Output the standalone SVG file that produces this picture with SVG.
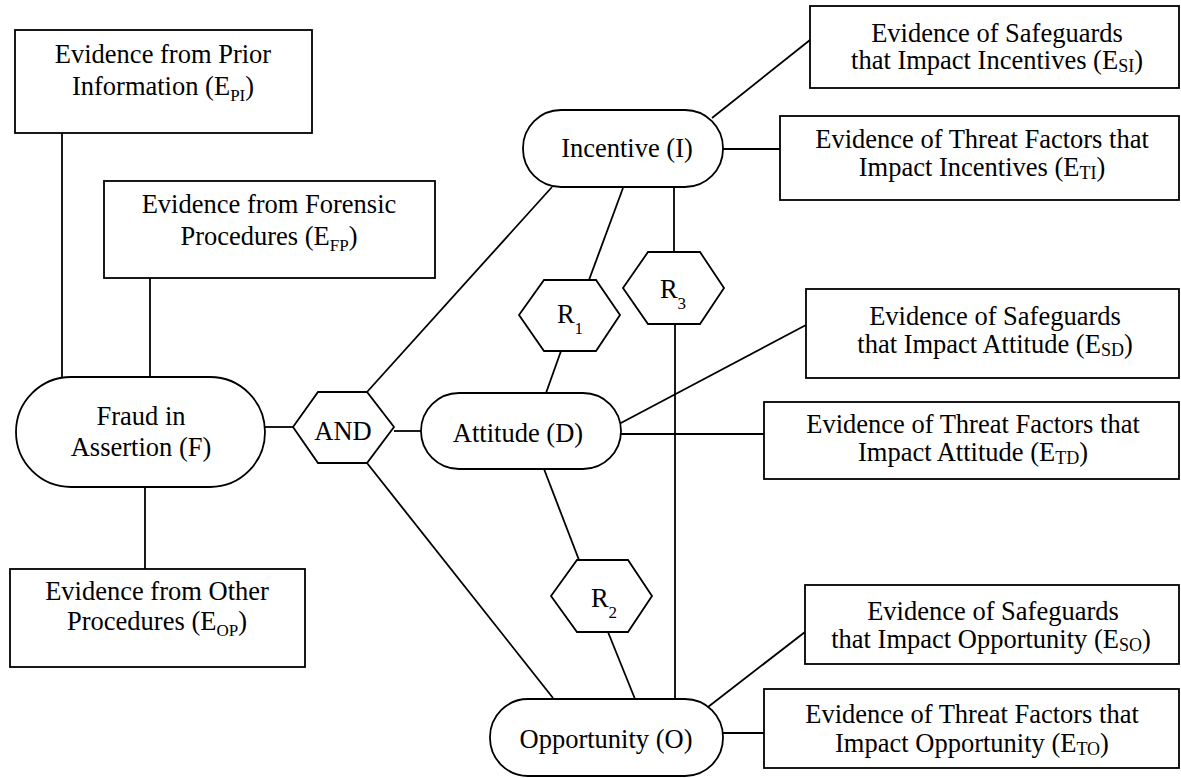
<svg xmlns="http://www.w3.org/2000/svg" width="1181" height="778" viewBox="0 0 1181 778">
<style>
.s{fill:#fff;stroke:#000;stroke-width:1.8}
.c line{stroke:#000;stroke-width:1.8}
text{font-family:'Liberation Serif','Times New Roman',serif;font-size:26.5px;fill:#000;text-anchor:middle}
.sb{font-size:17px}
.sr{font-size:18px}
</style>
<rect width="1181" height="778" fill="#fff"/>
<g class="c" id="connectors">
<line x1="62" y1="133" x2="62" y2="377"/>
<line x1="150" y1="278" x2="150" y2="377"/>
<line x1="145" y1="487" x2="145" y2="569"/>
<line x1="263" y1="427" x2="293" y2="427"/>
<line x1="394" y1="431" x2="421" y2="431"/>
<line x1="367" y1="392" x2="552" y2="187"/>
<line x1="367" y1="463" x2="553" y2="698"/>
<line x1="623" y1="188" x2="589" y2="280"/>
<line x1="561" y1="351" x2="546" y2="393"/>
<line x1="674" y1="188" x2="674" y2="252"/>
<line x1="675" y1="324" x2="675" y2="699"/>
<line x1="544" y1="469" x2="579" y2="560"/>
<line x1="608" y1="632" x2="635" y2="699"/>
<line x1="712" y1="118" x2="810" y2="40"/>
<line x1="723" y1="149" x2="780" y2="149"/>
<line x1="619" y1="424" x2="806" y2="325"/>
<line x1="621" y1="434" x2="764" y2="434"/>
<line x1="708" y1="707" x2="805" y2="632"/>
<line x1="723" y1="733" x2="764" y2="733"/>
</g>
<g id="n-pi"><rect class="s" x="15" y="30" width="297" height="103"/>
<text x="163" y="63">Evidence from Prior</text>
<text x="163" y="95">Information (E<tspan class="sb" dy="6">PI</tspan><tspan dy="-6">)</tspan></text></g>
<g id="n-fp"><rect class="s" x="104" y="181" width="331" height="97"/>
<text x="269" y="213">Evidence from Forensic</text>
<text x="269" y="245">Procedures (E<tspan class="sb" dy="6">FP</tspan><tspan dy="-6">)</tspan></text></g>
<g id="n-op"><rect class="s" x="10" y="569" width="295" height="98"/>
<text x="157" y="600">Evidence from Other</text>
<text x="157" y="630">Procedures (E<tspan class="sb" dy="6">OP</tspan><tspan dy="-6">)</tspan></text></g>
<g id="n-fraud"><rect class="s" x="16" y="377" width="249" height="110" rx="55"/>
<text x="141" y="425">Fraud in</text>
<text x="141" y="456">Assertion (F)</text></g>
<g id="n-and"><polygon class="s" points="293,427 318,392 367,392 394,427 367,463 318,463"/>
<text x="343" y="440">AND</text></g>
<g id="n-inc"><rect class="s" x="523" y="110" width="200" height="77" rx="38"/>
<text x="627" y="157">Incentive (I)</text></g>
<g id="n-att"><rect class="s" x="421" y="393" width="200" height="76" rx="38"/>
<text x="518" y="442">Attitude (D)</text></g>
<g id="n-opp"><rect class="s" x="490" y="699" width="233" height="77" rx="38"/>
<text x="606" y="748">Opportunity (O)</text></g>
<g id="n-r1"><polygon class="s" points="519,315 544,280 596,280 620,315 596,351 544,351"/>
<text x="570" y="323">R<tspan class="sb" dy="11">1</tspan></text></g>
<g id="n-r3"><polygon class="s" points="623,288 648,252 700,252 724,288 700,324 648,324"/>
<text x="673" y="298">R<tspan class="sb" dy="11">3</tspan></text></g>
<g id="n-r2"><polygon class="s" points="551,596 577,560 628,560 652,596 628,632 577,632"/>
<text x="604" y="607">R<tspan class="sb" dy="11">2</tspan></text></g>
<g id="n-si"><rect class="s" x="810" y="6" width="369" height="82"/>
<text x="997" y="42">Evidence of Safeguards</text>
<text x="997" y="69">that Impact Incentives (E<tspan class="sr" dy="3">SI</tspan><tspan dy="-3">)</tspan></text></g>
<g id="n-ti"><rect class="s" x="780" y="116" width="399" height="84"/>
<text x="982" y="148">Evidence of Threat Factors that</text>
<text x="982" y="176">Impact Incentives (E<tspan class="sr" dy="3">TI</tspan><tspan dy="-3">)</tspan></text></g>
<g id="n-sd"><rect class="s" x="806" y="289" width="373" height="89"/>
<text x="995" y="325">Evidence of Safeguards</text>
<text x="995" y="353">that Impact Attitude (E<tspan class="sr" dy="3">SD</tspan><tspan dy="-3">)</tspan></text></g>
<g id="n-td"><rect class="s" x="764" y="402" width="415" height="77"/>
<text x="973" y="433">Evidence of Threat Factors that</text>
<text x="973" y="461">Impact Attitude (E<tspan class="sr" dy="3">TD</tspan><tspan dy="-3">)</tspan></text></g>
<g id="n-so"><rect class="s" x="805" y="585" width="374" height="79"/>
<text x="993" y="620">Evidence of Safeguards</text>
<text x="991" y="648">that Impact Opportunity (E<tspan class="sr" dy="3">SO</tspan><tspan dy="-3">)</tspan></text></g>
<g id="n-to"><rect class="s" x="764" y="689" width="415" height="79"/>
<text x="972" y="723">Evidence of Threat Factors that</text>
<text x="972" y="752">Impact Opportunity (E<tspan class="sr" dy="3">TO</tspan><tspan dy="-3">)</tspan></text></g>
</svg>
